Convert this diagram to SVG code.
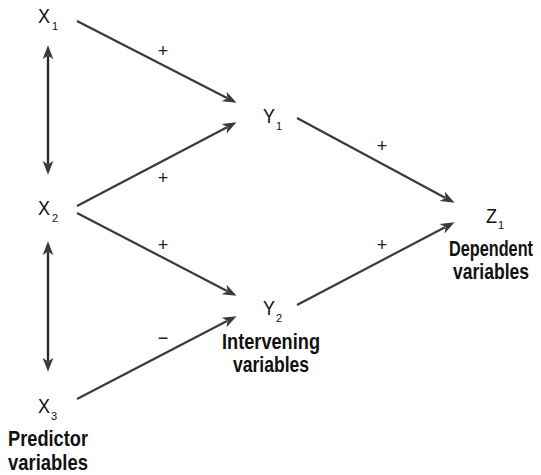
<svg xmlns="http://www.w3.org/2000/svg" width="541" height="475" viewBox="0 0 541 475">
<defs>
<marker id="ah" markerUnits="userSpaceOnUse" markerWidth="14" markerHeight="12" viewBox="0 0 13 10" refX="3" refY="5" orient="auto-start-reverse">
<path d="M0,0 L13,5 L0,10 L3.5,5 Z" fill="#3a3a3a"/>
</marker>
<style>
.c{stroke:#3a3a3a;stroke-width:2.2;fill:none;marker-end:url(#ah)}
.d{stroke:#2a2a2a;stroke-width:2.4;fill:none;marker-start:url(#ah);marker-end:url(#ah)}
.v{font-family:"Liberation Sans",Arial,sans-serif;font-size:21px;fill:#111}
.s{font-family:"Liberation Sans",Arial,sans-serif;font-size:11px;fill:#111}
.b{font-family:"Liberation Sans",Arial,sans-serif;font-size:22px;font-weight:bold;fill:#111;text-anchor:middle}
.p{font-family:"Liberation Sans",Arial,sans-serif;font-size:18px;fill:#222;text-anchor:middle}
</style>
</defs>
<rect width="541" height="475" fill="#fff"/>
<g id="connectors">
<line class="c" x1="77" y1="21" x2="227" y2="97.9"/>
<line class="c" x1="77" y1="206" x2="227" y2="127.2"/>
<line class="c" x1="77" y1="213" x2="227" y2="290.9"/>
<line class="c" x1="77" y1="399" x2="227" y2="321.1"/>
<line class="c" x1="297" y1="118" x2="445.1" y2="197.7"/>
<line class="c" x1="297" y1="305" x2="445" y2="227.2"/>
<line class="d" x1="48" y1="56" x2="48" y2="164"/>
<line class="d" x1="48" y1="252" x2="48" y2="361"/>
<text class="p" x="163" y="57">+</text>
<text class="p" x="163" y="184">+</text>
<text class="p" x="163" y="251">+</text>
<text class="p" x="163" y="344">−</text>
<text class="p" x="382" y="152">+</text>
<text class="p" x="382" y="251">+</text>
</g>
<g id="X1"><text class="v" x="38" y="23" textLength="12" lengthAdjust="spacingAndGlyphs">X</text><text class="s" x="52" y="30">1</text></g>
<g id="X2"><text class="v" x="38" y="215" textLength="12" lengthAdjust="spacingAndGlyphs">X</text><text class="s" x="52" y="222">2</text></g>
<g id="X3"><text class="v" x="38" y="413" textLength="12" lengthAdjust="spacingAndGlyphs">X</text><text class="s" x="51" y="420">3</text></g>
<g id="Y1"><text class="v" x="263" y="123" textLength="12" lengthAdjust="spacingAndGlyphs">Y</text><text class="s" x="276" y="130">1</text></g>
<g id="Y2"><text class="v" x="263" y="315" textLength="12" lengthAdjust="spacingAndGlyphs">Y</text><text class="s" x="276" y="322">2</text></g>
<g id="Z1"><text class="v" x="486" y="223" textLength="11" lengthAdjust="spacingAndGlyphs">Z</text><text class="s" x="498" y="229">1</text></g>
<g id="predictor-label"><text class="b" x="48" y="446" textLength="80" lengthAdjust="spacingAndGlyphs">Predictor</text><text class="b" x="48" y="470" textLength="80" lengthAdjust="spacingAndGlyphs">variables</text></g>
<g id="intervening-label"><text class="b" x="271" y="349" textLength="98" lengthAdjust="spacingAndGlyphs">Intervening</text><text class="b" x="271" y="372" textLength="76" lengthAdjust="spacingAndGlyphs">variables</text></g>
<g id="dependent-label"><text class="b" x="491" y="256" textLength="84" lengthAdjust="spacingAndGlyphs">Dependent</text><text class="b" x="491" y="279" textLength="76" lengthAdjust="spacingAndGlyphs">variables</text></g>
</svg>
